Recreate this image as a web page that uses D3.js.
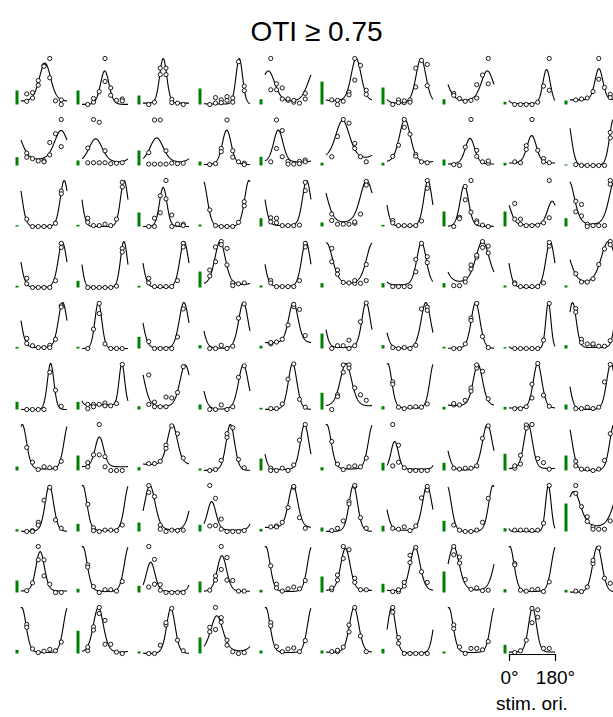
<!DOCTYPE html>
<html><head><meta charset="utf-8">
<script src="https://cdn.jsdelivr.net/npm/d3@7"></script>
<style>body{margin:0;background:#fff}svg{display:block}text{font-family:"Liberation Sans",Arial,Helvetica,sans-serif;fill:#000}</style>
</head><body>
<script>
const _ = null;
const titleText = "OTI \u2265 0.75";
const axisTicks = [0, 180];
const axisLabel = "stim. ori.";
const oris = [22.5, 45, 67.5, 90, 112.5, 135, 157.5];

// fitted tuning-curve parameters per cell (row-major, 10 per row)
const peakOri = [
94,89,79,138,13,118,133,154,147,113,
157,53.5,53.5,89,52,65,70,86,89,170,
169,165,79,176,163,159,160,64,169,175,
162,164,161,63,160,2,135,135,161,150,
163,64,160,154,111,157,152,108,154,10,
116,156,165,154,108,78,3,117,112,160,
5,68,115,103,155,3,30,154,75,172,
111,3,27,30,110,107,157,176,154,15,
75,3,30,70,3,76,110,22,3,107,
3,64,109,50,3,110,18,3,92];
const tuneK = [
1.7,3,4.3,5,1.3,2.2,2.2,1.5,4,3.5,
1.2,1.2,1.2,2.8,2.5,1.1,1.8,2.5,2.5,3.5,
3.5,4,4,3,3.2,1.3,3.3,3,2.5,1.7,
3,4.6,3,2,3,1.5,2.5,1.2,3,1,
3,4.5,2.5,2.5,2.5,3,2.4,2.8,8,4,
5,7,2,2.3,3,1.7,3.5,2.5,3,3,
3,3,2.2,3,3,2.8,4,2.2,3,3,
3,3.2,2,3,2.5,3,2.5,3,7,1.2,
3,2.8,3,2.5,3,2.5,2.2,1.8,3,2.5,
3,2.2,3,1.5,3,2.5,3.5,3,3.5];
const fitBase = [
.05,0,.03,.01,.03,.07,.02,.06,.02,.1,
.08,.03,.03,.02,.07,.08,.05,.03,.05,0,
0,0,0,0,.02,.03,.01,0,.03,.02,
0,0,0,.05,.02,.05,.05,.05,0,0,
.02,0,0,0,.12,.02,0,0,0,.02,
0,.1,.05,0,0,.05,.03,.08,.03,0,
.03,.08,.12,0,.02,.03,.03,0,.04,0,
0,.02,.02,.03,.08,0,.02,0,0,.05,
.03,.02,.02,.02,.02,.04,.03,.03,.02,0,
.02,.02,0,.02,.02,.02,.01,.02,.03];
const fitAmp = [
.85,.73,.97,.99,.7,.93,.98,.67,.74,.68,
.68,.55,.57,.75,.7,.9,.95,.56,.6,1,
1,1,.85,1,.98,.97,.99,.9,.52,.98,
.98,1,1,.95,.98,.92,.93,.95,1,1,
.98,1,1,1,.88,.98,1,1,1,.98,
1,.9,.92,.97,1,.95,.97,.9,.97,1,
.97,.65,.88,1,.98,.97,.6,1,.96,1,
1,.98,.98,.62,.92,1,.98,1,1,.82,
.86,.98,.64,.78,.98,.92,.95,.97,.98,1,
.98,.98,.98,.8,.98,.98,.99,.98,.97];
// green bar value per cell
const barVal = [
14,14,9,16,5.3,23,17,5.3,2.7,4,
8.3,5,15,4,8.7,2.7,2.7,6,2.7,1,
1.3,1.7,14,2,8.3,4,1.7,15,15,8.3,
1.7,6.7,1.7,16,2,4.3,4.3,4.3,2,2,
1.7,1.7,11.7,3.3,2.7,15,3.3,1.7,1.3,3.3,
7.7,7.7,3.3,5,1.7,16.7,3.3,2.7,2.7,5,
4,15,3.3,2,12,3.3,7.7,7.7,16.7,15,
2.3,7.7,9,6.7,2.7,4,5.7,10.7,3.3,28,
12,3.7,6.7,11,2.7,16,8.7,21,3.3,2.7,
3.7,22.7,2,16,3,3,4.7,2,8.7];
// normalized responses, repeat A
const respA = [
[.23,.26,.52,.85,1.0,.08,.1],[0,.05,.28,1.0,.36,.09,.12],[0,.05,.79,.79,.11,.03,0],[0,.15,.1,.17,.14,.93,.4],[1.0,.45,.36,.09,.05,.03,.12],
[.1,.09,.07,.27,.53,.85,.31],[0,.1,.04,.1,.79,.96,.87],[.24,.13,.07,.09,.14,.64,1.0],[0,0,0,0,.05,.4,.31],[.1,.12,.14,.28,.55,.37,.22],
[.27,.15,.1,.1,.23,.69,1.0],[.06,.06,.06,.06,.04,.05,.06],[.03,.03,.03,.03,.05,.04,.05],[.02,.04,.37,.99,.32,.08,.05],[.08,.99,.76,.09,.03,.09,.12],
[.19,.63,1.0,.92,.48,.19,.08],[.2,.44,1.0,.68,.24,.08,.06],[.02,0,.4,1.0,.33,.08,.05],[.08,.06,.43,1.0,.33,.15,.06],[.02,0,0,0,0,0,.72],
[.16,0,0,0,0,.07,.77],[.18,.02,.02,.05,.02,.16,.96],[0,.18,.3,1.0,.25,.05,.05],[.36,.02,0,0,0,.09,.54],[.19,.18,.02,.02,.02,.03,.96],
[.27,.05,.05,.05,.07,.27,.98],[.13,.02,.02,.02,.02,.12,1.0],[0,.2,.58,1.0,.12,.03,0],[.16,.16,.02,.02,.03,.08,.19],[.55,.48,.05,.02,.02,.02,1.0],
[.2,0,0,0,0,.15,.96],[0,0,0,0,0,.03,.85],[.2,.02,.02,.02,.02,.15,.96],[.25,.56,1.0,.85,.1,.08,.1],[.15,.02,.02,.02,.02,.15,.96],
[.85,.38,.11,.1,.09,.09,.15],[.02,.02,.02,.02,.34,.96,.67],[.04,.04,.19,.49,.66,.87,.9],[.1,.02,.02,.02,.02,.1,.9],[.3,.12,.12,.19,.5,.84,1.0],
[.22,.06,.02,.02,.07,.2,.93],[0,.42,.98,.1,0,0,0],[.15,0,0,0,0,.25,.86],[0,0,.07,0,.05,.66,.97],[.1,.14,.2,.51,.91,.85,.28],
[0,.06,.06,0,.06,.58,.99],[.02,0,.02,0,.07,.86,.9],[0,0,.1,.66,.98,.26,.02],[0,0,0,0,0,.18,.98],[.87,.2,.1,.07,.05,.05,.17],
[0,0,0,0,.81,.42,.07],[.11,.11,.11,.14,.08,.13,.98],[.75,.16,.06,.27,.25,.37,.93],[0,0,.1,0,.06,.7,.95],[.02,.02,.12,.66,.99,.22,.05],
[0,.32,.81,.97,.47,.32,.2],[.6,.05,.02,.05,.06,.05,.12],[.1,.1,.2,.47,.9,.83,.23],[.02,.02,.06,.25,1.0,.31,.07],[.02,.02,.05,.02,.05,.6,.98],
[.5,.18,.02,.08,.06,.05,.2],[.17,.34,1.0,.3,0,0,0],[.15,.15,.2,.55,.97,.8,.27],[0,.02,.22,.72,.93,.24,.06],[.05,0,.05,0,.12,.66,1.0],
[.63,.14,.02,.08,.1,.08,.27],[.1,.55,.06,0,0,0,0],[.05,.03,.05,.05,.1,.7,.97],[.05,.14,.99,1.0,.26,.17,.03],[.2,.03,.03,0,.03,.22,.8],
[0,.02,.2,.68,.96,.25,.07],[.59,.08,0,.03,.03,.02,.14],[1.0,.76,.14,0,.03,.02,.03],[1.0,.72,.27,0,0,0,.02],[.1,.12,.2,.52,.96,.3,.07],
[.02,.07,.23,.65,.98,.3,.07],[.07,.05,.1,.02,.12,.73,.9],[.14,.03,0,0,.03,.2,.72],[.03,.03,.03,.02,.03,.18,1.0],[1.0,.54,.32,.1,.05,.05,.23],
[.04,.21,1.0,.71,.18,0,0],[.6,.13,0,.06,.06,.03,.24],[1.0,.72,.17,0,0,0,0],[.05,.27,1.0,.76,.26,.03,.03],[.58,.18,.03,.08,.12,.08,.26],
[.06,.27,.74,.93,.31,.06,.06],[.02,.02,.14,.65,.98,.45,.22],[1.0,.77,.28,.07,.1,.04,.05],[.63,.05,.03,.06,.07,.02,.23],[.03,.02,.12,.63,.97,.31,.2],
[.63,.1,.02,.05,.09,.06,.25],[.06,.58,1.0,.72,.2,.03,0],[0,0,.18,.62,.98,.29,.06],[.47,1.0,.78,.29,.04,0,.02],[.67,.15,.04,.1,.12,.04,.28],
[.04,.04,.14,.47,1.0,.38,.04],[1.0,.35,0,0,0,0,0],[.62,.14,0,.11,.11,.08,.26],[.02,.06,.29,.67,.79,.11,.11]];
// normalized responses, repeat B
const respB = [
[.07,.14,.42,.83,.58,_,0],[_,.13,_,.5,.2,_,.08],[_,_,.65,.65,.04,_,_],[_,.03,.04,.09,.05,_,.3],[.32,.32,.12,.12,.09,_,.24],
[_,0,_,.21,1.0,_,.22],[_,.04,.08,.05,.38,_,.41],[.2,_,_,_,.43,_,.45],[_,_,_,_,_,_,1.0],[_,_,_,_,1.0,_,.15],
[.18,_,_,.08,.5,_,.41],[.38,1.0,.94,.32,_,_,_],[.28,.99,.99,.32,_,_,_],[_,_,.3,_,.18,_,.02],[_,.37,.19,.03,_,.04,.08],
[_,_,_,_,.37,_,_],[_,_,.83,_,.2,_,_],[_,_,_,_,.2,_,.1],[_,_,.35,_,_,.08,_],[_,_,_,_,_,_,.6],
[_,_,_,_,_,_,.71],[.09,_,_,_,_,_,.86],[_,0,.67,.6,0,_,.02],[_,_,_,_,_,_,.45],[.1,.08,_,_,_,_,.78],
[.13,_,_,_,.1,_,.9],[.08,_,_,_,_,_,.83],[_,.17,.87,.31,.08,_,_],[.5,.05,_,_,_,_,1.0],[.32,.23,0,_,_,_,.92],
[.08,_,_,_,_,_,.87],[_,_,_,_,_,_,.77],[.1,_,_,_,_,_,.88],[.38,.88,.93,.49,.04,_,_],[.1,_,_,_,_,_,.88],
[.56,.29,_,_,.15,_,.5],[_,_,_,_,.61,_,.54],[_,_,.12,.4,.7,1.0,.75],[.08,_,_,_,_,_,.98],[_,_,_,_,_,_,.93],
[.11,_,_,_,.02,_,.9],[_,_,.76,_,_,_,_],[_,_,_,_,_,_,_],[_,_,_,_,_,_,_],[.13,_,_,_,.96,_,_],
[_,_,_,.18,_,_,_],[_,_,_,_,_,_,.83],[_,_,_,.61,_,_,_],[_,_,_,_,_,_,_],[.79,.13,_,.1,_,_,_],
[_,_,_,_,_,_,_],[.02,.06,_,.08,_,_,_],[.11,.06,_,.06,_,_,_],[_,_,_,_,_,_,_],[_,_,_,_,_,_,_],
[_,.28,.97,.9,_,_,_],[.55,_,_,_,_,_,_],[.13,_,_,.4,.97,_,_],[_,_,_,.55,_,_,_],[_,_,_,_,_,_,_],
[_,_,_,_,_,_,_],[.08,_,.34,.08,_,_,_],[_,_,_,.48,_,_,_],[_,_,_,.8,_,_,_],[0,_,_,_,_,_,_],
[_,_,_,_,_,_,_],[1.0,.18,_,_,_,_,_],[_,_,_,_,_,_,_],[.1,.33,.92,_,_,_,_],[.1,_,_,_,_,_,_],
[_,0,.14,_,_,_,_],[_,.02,_,_,_,_,_],[.85,_,.05,_,_,_,_],[.12,.13,.05,_,_,_,_],[_,.1,_,_,.98,_,_],
[_,_,_,.6,1.0,_,_],[_,_,_,_,_,_,.98],[_,_,_,_,_,_,_],[_,_,_,_,_,_,_],[.83,_,.22,.05,_,_,_],
[_,_,.71,.36,_,_,_],[.55,_,_,_,_,_,_],[.12,.18,.05,_,_,_,_],[_,.36,.5,.27,_,_,_],[_,.1,_,_,_,_,_],
[.1,.38,1.0,_,.22,_,_],[_,.06,.22,.81,_,_,_],[.82,.64,_,_,_,_,_],[.6,_,_,_,_,_,_],[_,_,_,.7,_,_,_],
[.57,_,_,_,_,_,_],[.14,.51,.87,.2,_,_,_],[_,_,_,.67,_,_,_],[.57,.52,.68,.18,_,_,_],[.6,_,_,_,_,_,_],
[_,.07,_,.62,_,_,_],[.9,.22,_,_,_,_,_],[.54,_,_,_,_,_,_],[_,_,_,.98,.95,_,_]];

const W = 613, H = 717;
const svg = d3.select("body").append("svg").attr("width", W).attr("height", H);

svg.append("text").attr("x", 316.5).attr("y", 40.5).attr("text-anchor", "middle")
  .style("font-size", "28px").text(titleText);

const colX = d3.scaleLinear().domain([0, 9]).range([21, 570]);
const rowY = d3.scaleLinear().domain([0, 9]).range([104.5, 653.5]);
const xCell = d3.scaleLinear().domain([0, 180]).range([0, 46]);
const yCell = d3.scaleLinear().domain([0, 1]).range([0, -46]);
const barH = d3.scaleLinear().domain([0, 46]).range([0, 46]);
const thetas = d3.range(0, 180.001, 1);
const line = d3.line().x(d => xCell(d[0])).y(d => yCell(d[1]));

peakOri.forEach((mu, i) => {
  const r = Math.floor(i / 10), c = i % 10;
  const g = svg.append("g").attr("transform", `translate(${colX(c)},${rowY(r)})`);
  g.append("rect").attr("x", -5.5).attr("width", 3)
    .attr("y", -barH(barVal[i])).attr("height", barH(barVal[i])).attr("fill", "#008000");
  const k = tuneK[i], b = fitBase[i], a = fitAmp[i];
  const pts = thetas.map(t => [t, b + a * Math.exp(k * (Math.cos(2 * (t - mu) * Math.PI / 180) - 1))]);
  g.append("path").attr("d", line(pts)).attr("fill", "none").attr("stroke", "#000").attr("stroke-width", 1.1);
  const dots = [];
  oris.forEach((o, j) => {
    if (respA[i][j] !== null) dots.push([o, respA[i][j]]);
    if (respB[i][j] !== null) dots.push([o, respB[i][j]]);
  });
  g.selectAll("circle").data(dots).join("circle")
    .attr("cx", d => xCell(d[0])).attr("cy", d => yCell(d[1])).attr("r", 2.1)
    .attr("fill", "#fff").attr("stroke", "#000").attr("stroke-width", 0.9);
  if (i === peakOri.length - 1) {
    const ax = g.append("g").attr("transform", "translate(0,0.5)")
      .call(d3.axisBottom(xCell).tickValues(axisTicks).tickSize(7).tickSizeOuter(7)
        .tickPadding(10).tickFormat(d => d + "\u00B0"));
    ax.selectAll("path,line").attr("stroke", "#000").attr("stroke-width", 1.1);
    ax.selectAll("text").style("font-size", "19px").style("font-family", '"Liberation Sans",Arial,sans-serif');
    g.append("text").attr("x", 23).attr("y", 710 - rowY(r)).attr("text-anchor", "middle")
      .style("font-size", "19px").text(axisLabel);
  }
});
</script>
</body></html>
